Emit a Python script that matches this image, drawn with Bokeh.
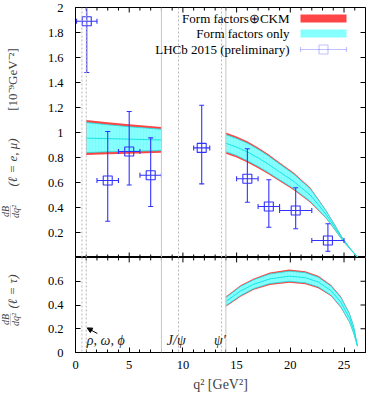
import math
from bokeh.plotting import figure
from bokeh.models import (Range1d, FixedTicker, Span, Label, Arrow, NormalHead,
                          BoxAnnotation, PolyAnnotation, CustomJSTickFormatter, ColumnDataSource)
from bokeh.layouts import column, row
from bokeh.embed import file_html
from bokeh.resources import INLINE

# ------------------------- data -------------------------
# LHCb 2015 (preliminary) binned measurement, ell = e, mu
bin_lo = [0.1, 2.0, 4.0, 6.0, 11.0, 15.0, 17.0, 19.0, 22.0]
bin_hi = [2.0, 4.0, 6.0, 8.0, 12.5, 17.0, 19.0, 22.0, 25.0]
bin_c = [1.05, 3.0, 5.0, 7.0, 11.75, 16.0, 18.0, 20.5, 23.5]
lhcb_val = [1.89, 0.616, 0.848, 0.658, 0.877, 0.63, 0.408, 0.376, 0.136]
lhcb_lo = [1.48, 0.29, 0.58, 0.408, 0.589, 0.442, 0.242, 0.23, 0.05]
lhcb_hi = [2.3, 1.008, 1.168, 0.957, 1.218, 0.87, 0.622, 0.558, 0.27]

# theory band, low q^2 (ell = e, mu)
lowq_x = [1.0, 3.0, 5.0, 8.0]
lowq_ckm_up = [1.10, 1.082, 1.066, 1.045]
lowq_ckm_dn = [0.82, 0.826, 0.831, 0.838]
lowq_ff_up = [1.08, 1.062, 1.046, 1.026]
lowq_ff_dn = [0.84, 0.846, 0.85, 0.856]
lowq_ff_c = [0.955, 0.951, 0.947, 0.94]

# theory band, high q^2 (ell = e, mu)
highq_x = [14.0, 15.0, 16.0, 17.0, 17.9, 19.0, 20.3, 21.85, 22.6, 23.35, 24.1, 24.85, 25.6, 26.3]
highq_ckm_up = [1.00, 0.968, 0.93, 0.88, 0.83, 0.76, 0.68, 0.56, 0.47, 0.376, 0.27, 0.16, 0.07, 0.0]
highq_ckm_dn = [0.83, 0.80, 0.76, 0.715, 0.67, 0.61, 0.54, 0.44, 0.376, 0.31, 0.225, 0.136, 0.062, 0.0]
highq_ff_up = [0.983, 0.952, 0.915, 0.866, 0.817, 0.748, 0.668, 0.55, 0.462, 0.37, 0.265, 0.156, 0.068, 0.0]
highq_ff_dn = [0.847, 0.816, 0.775, 0.729, 0.683, 0.622, 0.552, 0.45, 0.384, 0.316, 0.23, 0.14, 0.064, 0.0]
highq_ff_c = [0.914, 0.883, 0.845, 0.797, 0.75, 0.685, 0.61, 0.50, 0.423, 0.343, 0.247, 0.148, 0.066, 0.0]

# theory band, ell = tau
tau_x = [14.0, 15.4, 16.6, 18.1, 19.9, 21.4, 22.6, 23.8, 24.7, 25.5, 25.9, 26.25]
tau_ckm_up = [0.472, 0.569, 0.624, 0.674, 0.698, 0.685, 0.646, 0.569, 0.473, 0.335, 0.225, 0.06]
tau_ckm_dn = [0.385, 0.472, 0.528, 0.569, 0.588, 0.575, 0.542, 0.473, 0.377, 0.253, 0.157, 0.05]
tau_ff_up = [0.462, 0.558, 0.612, 0.661, 0.685, 0.672, 0.634, 0.558, 0.463, 0.327, 0.219, 0.058]
tau_ff_dn = [0.395, 0.482, 0.539, 0.581, 0.600, 0.587, 0.553, 0.483, 0.386, 0.26, 0.162, 0.052]
tau_ff_c = [0.43, 0.52, 0.575, 0.62, 0.643, 0.63, 0.594, 0.52, 0.425, 0.293, 0.19, 0.055]

# resonances (dashed) and analysis cuts (solid)
res_q2 = [0.6, 1.0, 9.59, 13.6]
cut_q2 = [8.0, 14.0]

x_major = [0, 5, 10, 15, 20, 25]
x_minor = [m for m in range(0, 28) if m % 5 != 0]
y_top_ticks = [0.2, 0.4, 0.6, 0.8, 1.0, 1.2, 1.4, 1.6, 1.8, 2.0]
y_bot_ticks = [0.0, 0.2, 0.4, 0.6]

legend_labels = ["Form factors\u2295CKM", "Form factors only", "LHCb 2015 (preliminary)"]

# ------------------------- style / layout -------------------------
FONT = "Liberation Serif"
RED = "#ff4646"
CYAN = "#86ffff"
CYAN_LINE = "#18e4e4"
BLUE = "#3232ff"
GRAY = "#c6c6c6"
DGRAY = "#b8b8b8"

TOTAL_W, TOTAL_H = 366, 394
WL = 24                      # width of the y-label strip
W = TOTAL_W - WL             # width of the plot column
BL, BR = 75 - WL, 1
FW = W - BL - BR
H1, BT1 = 257, 7
FH1 = H1 - BT1
H2 = TOTAL_H - H1
BB2 = 40
FH2 = H2 - BB2
XMAX = 27.0
sx = XMAX / FW
sy1 = 2.0 / FH1
sy2 = 0.8 / FH2

fmt = CustomJSTickFormatter(code="return String(Math.round(tick*10)/10);")


def style_axis(ax):
    ax.axis_line_color = "black"
    ax.major_tick_in = 5
    ax.major_tick_out = 0
    ax.minor_tick_in = 3
    ax.minor_tick_out = 0
    ax.major_tick_line_color = "black"
    ax.minor_tick_line_color = "black"
    ax.major_label_text_font = FONT
    ax.major_label_text_font_size = "12.5px"
    ax.major_label_text_color = "black"
    ax.formatter = fmt


x_range = Range1d(0, XMAX)

# ------------------------- top panel -------------------------
p1 = figure(width=W, height=H1, x_range=x_range, y_range=Range1d(0, 2),
            output_backend="svg", toolbar_location=None,
            min_border_left=BL, min_border_right=BR, min_border_top=BT1, min_border_bottom=0)
p1.grid.visible = False
p1.outline_line_color = "black"
p1.xaxis.visible = False
p1.yaxis.ticker = FixedTicker(ticks=y_top_ticks)
style_axis(p1.yaxis[0])
p1.yaxis.minor_tick_in = 0
p1.yaxis.major_label_standoff = 12

# ------------------------- bottom panel -------------------------
p2 = figure(width=W, height=H2, x_range=x_range, y_range=Range1d(0, 0.8),
            output_backend="svg", toolbar_location=None,
            min_border_left=BL, min_border_right=BR, min_border_top=0, min_border_bottom=BB2)
p2.grid.visible = False
p2.outline_line_color = "black"
p2.xaxis.ticker = FixedTicker(ticks=x_major, minor_ticks=x_minor)
style_axis(p2.xaxis[0])
p2.xaxis.major_label_standoff = 8
p2.xaxis.axis_label = "q\u00b2 [GeV\u00b2]"
p2.xaxis.axis_label_text_font = FONT
p2.xaxis.axis_label_text_font_size = "14px"
p2.xaxis.axis_label_text_font_style = "normal"
p2.xaxis.axis_label_standoff = 5
p2.yaxis.ticker = FixedTicker(ticks=y_bot_ticks)
style_axis(p2.yaxis[0])
p2.yaxis.minor_tick_in = 0
p2.yaxis.major_label_standoff = 12


# mirrored inward ticks (frame decoration) drawn from the tick lists
def xticks_at(p, yedge, down, sy):
    for ticks, ln in ((x_major, 5), (x_minor, 3)):
        y1 = yedge - ln * sy if down else yedge + ln * sy
        p.segment(x0=ticks, y0=[yedge] * len(ticks), x1=ticks, y1=[y1] * len(ticks),
                  line_color="black", line_width=1)


def yticks_right(p, ticks):
    p.segment(x0=[XMAX] * len(ticks), y0=ticks, x1=[XMAX - 5 * sx] * len(ticks), y1=ticks,
              line_color="black", line_width=1)


xticks_at(p1, 2.0, True, sy1)
xticks_at(p1, 0.0, False, sy1)
yticks_right(p1, y_top_ticks)
xticks_at(p2, 0.8, True, sy2)
yticks_right(p2, y_bot_ticks)

# vertical lines
for p in (p1, p2):
    for q in res_q2:
        p.add_layout(Span(location=q, dimension="height", line_color=DGRAY,
                          line_width=1, line_dash="2 2"))
    for q in cut_q2:
        p.add_layout(Span(location=q, dimension="height", line_color=GRAY, line_width=1))


# theory bands
def band(p, x, cu, cd, fu, fd, fc):
    p.varea(x=x, y1=cd, y2=cu, fill_color=RED, fill_alpha=1.0)
    p.varea(x=x, y1=fd, y2=fu, fill_color=CYAN, fill_alpha=1.0,
            hatch_pattern="vertical_line", hatch_color="#40c8d8", hatch_alpha=0.08,
            hatch_scale=3, hatch_weight=1)
    p.line(x, fu, line_color=CYAN_LINE, line_width=0.8)
    p.line(x, fd, line_color=CYAN_LINE, line_width=0.8)
    p.line(x, fc, line_color=CYAN_LINE, line_width=1.0)


band(p1, lowq_x, lowq_ckm_up, lowq_ckm_dn, lowq_ff_up, lowq_ff_dn, lowq_ff_c)
band(p1, highq_x, highq_ckm_up, highq_ckm_dn, highq_ff_up, highq_ff_dn, highq_ff_c)
band(p2, tau_x, tau_ckm_up, tau_ckm_dn, tau_ff_up, tau_ff_dn, tau_ff_c)

# LHCb data
src = ColumnDataSource(dict(x=bin_c, y=lhcb_val, xlo=bin_lo, xhi=bin_hi, ylo=lhcb_lo, yhi=lhcb_hi))
p1.segment(x0="xlo", y0="y", x1="xhi", y1="y", source=src, line_color=BLUE, line_width=1.1)
p1.segment(x0="x", y0="ylo", x1="x", y1="yhi", source=src, line_color=BLUE, line_width=1.1)
p1.scatter(x="x", y="ylo", source=src, marker="dash", size=5, line_color=BLUE, line_width=1.1)
p1.scatter(x="x", y="yhi", source=src, marker="dash", size=5, line_color=BLUE, line_width=1.1)
p1.scatter(x="xlo", y="y", source=src, marker="dash", size=5, angle=math.pi / 2,
           line_color=BLUE, line_width=1.1)
p1.scatter(x="xhi", y="y", source=src, marker="dash", size=5, angle=math.pi / 2,
           line_color=BLUE, line_width=1.1)
p1.scatter(x="x", y="y", source=src, marker="square", size=9, fill_color=None,
           line_color=BLUE, line_width=1.1)

# ------------------------- legend (manual, glyph on the right) -------------------------
rows_px = [11, 26, 42]
tx = XMAX - 76 * sx
gx0, gx1 = XMAX - 65 * sx, XMAX - 19 * sx
for i, lab in enumerate(legend_labels):
    yy = 2 - rows_px[i] * sy1
    p1.add_layout(Label(x=tx, y=yy, text=lab, text_align="right", text_baseline="middle",
                        text_font=FONT, text_font_size="13px", text_color="black"))
for i, col in enumerate([RED, CYAN]):
    yy = 2 - rows_px[i] * sy1
    p1.add_layout(BoxAnnotation(left=gx0, right=gx1, top=yy + 4 * sy1, bottom=yy - 4 * sy1,
                                fill_color=col, fill_alpha=1.0, line_color=None))
yy = 2 - rows_px[2] * sy1
p1.add_layout(PolyAnnotation(xs=[gx0, gx1], ys=[yy, yy], line_color=BLUE, line_width=1.1,
                             fill_alpha=0))
for gx in (gx0, gx1):
    p1.add_layout(PolyAnnotation(xs=[gx, gx], ys=[yy - 2.5 * sy1, yy + 2.5 * sy1],
                                 line_color=BLUE, line_width=1.1, fill_alpha=0))
gxc = 0.5 * (gx0 + gx1)
p1.add_layout(BoxAnnotation(left=gxc - 4.5 * sx, right=gxc + 4.5 * sx, top=yy + 4.5 * sy1,
                            bottom=yy - 4.5 * sy1, fill_color="white", fill_alpha=0,
                            line_color=BLUE, line_width=1.1))

# ------------------------- resonance annotations -------------------------
for txt, xx in [("\u03c1, \u03c9, \u03d5", 1.05), ("J/\u03c8", 8.5), ("\u03c8\u2032", 12.9)]:
    p2.add_layout(Label(x=xx, y=12 * sy2, text=txt, text_align="left",
                        text_baseline="alphabetic", text_font=FONT, text_font_size="14px",
                        text_font_style="italic", text_color="#222222"))
p2.add_layout(Arrow(x_start=2.03, y_start=0.16, x_end=1.09, y_end=0.207, line_width=1,
                    line_color="black",
                    end=NormalHead(size=5, fill_color="black", line_color="black")))

# ------------------------- y-axis label strip (pixel-like coordinates) -------------------------
yl = figure(width=WL, height=TOTAL_H, x_range=Range1d(0, WL), y_range=Range1d(0, TOTAL_H),
            output_backend="svg", toolbar_location=None, min_border=0)
yl.axis.visible = False
yl.grid.visible = False
yl.outline_line_color = None
ANG = math.pi / 2


def ylabel(frac_y, main_y, main_text, unit_y=None, unit_text=None):
    yl.add_layout(Label(x=5.0, y=frac_y, text="dB", angle=ANG, text_align="center",
                        text_baseline="middle", text_font=FONT, text_font_size="10px",
                        text_font_style="italic"))
    yl.add_layout(PolyAnnotation(xs=[10.0, 10.0], ys=[frac_y - 6, frac_y + 6],
                                 line_color="#333333", line_width=0.8, fill_alpha=0))
    yl.add_layout(Label(x=15.0, y=frac_y, text="dq\u00b2", angle=ANG, text_align="center",
                        text_baseline="middle", text_font=FONT, text_font_size="10px",
                        text_font_style="italic"))
    yl.add_layout(Label(x=12.0, y=main_y, text=main_text, angle=ANG, text_align="center",
                        text_baseline="middle", text_font=FONT, text_font_size="13px",
                        text_font_style="italic"))
    if unit_text:
        yl.add_layout(Label(x=12.0, y=unit_y, text=unit_text, angle=ANG, text_align="center",
                            text_baseline="middle", text_font=FONT, text_font_size="13px"))


ylabel(TOTAL_H - 211, TOTAL_H - 162, "(\u2113 = e, \u03bc)", TOTAL_H - 79,
       "[10\u207b\u2079GeV\u207b\u00b2]")
ylabel(TOTAL_H - 319, TOTAL_H - 291, "(\u2113 = \u03c4)")

layout = row(yl, column(p1, p2, spacing=0), spacing=0)
open("out.html", "w").write(file_html(layout, INLINE))
